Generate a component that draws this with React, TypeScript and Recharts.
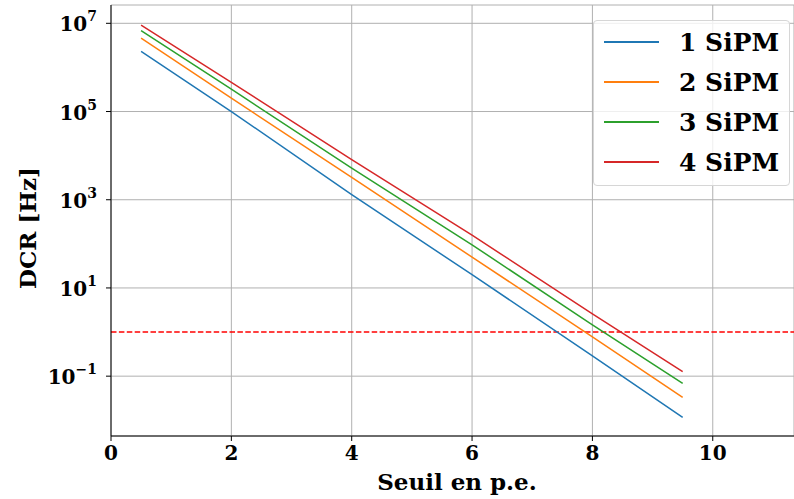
import { LineChart, Line, XAxis, YAxis, CartesianGrid, ReferenceLine } from 'recharts';

// threshold in photo-electrons
const seuils = [0.5, 2, 4, 6, 8, 9.5];

// dark count rate [Hz]
const dcr1 = [2.3e6, 1.0e5, 1.3e3, 20, 0.29, 0.0117];
const dcr2 = [4.6e6, 2.0e5, 3.2e3, 50, 0.78, 0.033];
const dcr3 = [6.8e6, 3.2e5, 5.2e3, 95, 1.45, 0.069];
const dcr4 = [9.1e6, 4.6e5, 8.1e3, 157, 2.6, 0.126];

const seriesNames = ['1 SiPM', '2 SiPM', '3 SiPM', '4 SiPM'];
const seriesKeys = ['s1', 's2', 's3', 's4'];
const seriesColors = ['#1f77b4', '#ff7f0e', '#2ca02c', '#d62728'];

const xTicks = [0, 2, 4, 6, 8, 10];
const yTicks = [0.1, 10, 1e3, 1e5, 1e7];
const seuilLimite = 1;

const data = seuils.map((x, i) => ({
  x,
  s1: dcr1[i],
  s2: dcr2[i],
  s3: dcr3[i],
  s4: dcr4[i],
}));

const FONT = '"DejaVu Serif", serif';

const PowerTick = (props: any) => {
  const { x, y, payload } = props;
  const exp = Math.round(Math.log10(payload.value));
  const expStr = exp < 0 ? '\u2212' + Math.abs(exp) : String(exp);
  return (
    <text x={x - 7} y={y + 8} textAnchor="end" fontFamily={FONT} fontWeight="bold" fill="#000">
      <tspan fontSize={20}>10</tspan>
      <tspan fontSize={14} dy={-10}>{expStr}</tspan>
    </text>
  );
};

const XTick = (props: any) => {
  const { x, y, payload } = props;
  return (
    <text x={x} y={y + 17} textAnchor="middle" fontFamily={FONT} fontWeight="bold" fontSize={20} fill="#000">
      {payload.value}
    </text>
  );
};

const LegendBox = () => (
  <div
    style={{
      position: 'absolute',
      left: 593,
      top: 20,
      width: 197,
      height: 166,
      boxSizing: 'border-box',
      background: 'rgba(255,255,255,0.8)',
      border: '1px solid #d6d6d6',
      borderRadius: 4,
      fontFamily: FONT,
      fontWeight: 'bold',
      fontSize: 25,
      paddingTop: 1,
    }}
  >
    {seriesNames.map((name, i) => (
      <div key={name} style={{ height: 40, display: 'flex', alignItems: 'center' }}>
        <div style={{ width: 55, height: 0, borderTop: `2px solid ${seriesColors[i]}`, marginLeft: 10, marginRight: 20 }} />
        <span style={{ color: '#000', whiteSpace: 'nowrap' }}>{name}</span>
      </div>
    ))}
  </div>
);

export default function App() {
  return (
    <div style={{ position: 'absolute', left: 0, top: 0, width: 794, height: 499, background: '#fff' }}>
      <LineChart width={794} height={499} data={data} margin={{ top: 5, right: 0, bottom: 0, left: 0 }}>
        <CartesianGrid stroke="#b0b0b0" strokeWidth={1} />
        <XAxis
          dataKey="x"
          type="number"
          domain={[0, 11.35]}
          ticks={xTicks}
          allowDataOverflow
          height={63}
          stroke="#000"
          tickSize={5}
          tick={<XTick />}
        />
        <XAxis xAxisId="top" orientation="top" type="number" domain={[0, 11.35]} height={0} tick={false} tickLine={false} stroke="#444" />
        <YAxis
          scale="log"
          type="number"
          domain={[0.0044, 2.6e7]}
          ticks={yTicks}
          allowDataOverflow
          width={111}
          stroke="#000"
          tickSize={5}
          tick={<PowerTick />}
        />
        <ReferenceLine y={seuilLimite} stroke="#ff0000" strokeWidth={1.5} strokeDasharray="5.5 2.4" />
        {seriesKeys.map((k, i) => (
          <Line
            key={k}
            dataKey={k}
            name={seriesNames[i]}
            stroke={seriesColors[i]}
            strokeWidth={1.5}
            dot={false}
            isAnimationActive={false}
          />
        ))}
      </LineChart>
      <LegendBox />
      <svg width={794} height={499} style={{ position: 'absolute', left: 0, top: 0, pointerEvents: 'none' }}>
        <text
          x={27}
          y={228}
          transform="rotate(-90, 27, 228)"
          textAnchor="middle"
          dominantBaseline="central"
          fontFamily={FONT}
          fontWeight="bold"
          fontSize={23}
          fill="#000"
        >
          DCR [Hz]
        </text>
        <text x={457} y={490} textAnchor="middle" fontFamily={FONT} fontWeight="bold" fontSize={23} fill="#000">
          Seuil en p.e.
        </text>
      </svg>
    </div>
  );
}
